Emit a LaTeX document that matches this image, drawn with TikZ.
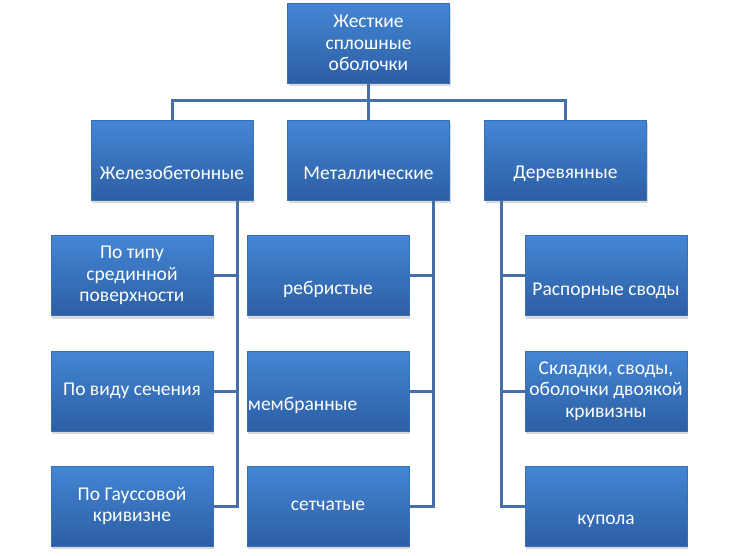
\documentclass[tikz,border=0pt]{standalone}
\usepackage{fontspec}
\setmainfont{Carlito}
\usetikzlibrary{shadows}
\definecolor{boxtop}{RGB}{68,134,212}
\definecolor{boxbot}{RGB}{44,94,164}
\definecolor{boxline}{RGB}{60,110,180}
\definecolor{linkcol}{RGB}{72,112,168}
\begin{document}
\begin{tikzpicture}[x=1pt, y=-1pt,
  box/.style={rectangle, draw=boxline, line width=0.6pt, top color=boxtop, bottom color=boxbot,
    minimum width=162pt, minimum height=80pt, inner sep=1pt, text=white, align=center,
    font=\fontsize{19.5}{21.5}\selectfont,
    drop shadow={opacity=0.3, shadow xshift=1pt, shadow yshift=-3pt}},
  txt/.style={inner sep=1pt, text=white, align=center, font=\fontsize{19.5}{21.5}\selectfont},
  link/.style={draw=linkcol, line width=3pt}]
\useasboundingbox (0,0) rectangle (737,555);
% top
\node[box](t) at (368.5,43){Жесткие\\сплошные\\оболочки};
% second level
\node[box](a) at (172,160){};
\node[box](b) at (368.5,160){};
\node[box](c) at (565.5,160){};
\node[txt](at) at ([yshift=-13pt]a.center){Железобетонные};
\node[txt](bt) at ([yshift=-13pt]b.center){Металлические};
\node[txt](ct) at ([yshift=-14pt]c.center){Деревянные};
% left column
\node[box](a1) at (132,275.5){По типу\\срединной\\поверхности};
\node[box](a2) at (132,391){По виду сечения};
\node[box](a3) at (132,506){По Гауссовой\\кривизне};
% middle column
\node[box](b1) at (328,275.5){};
\node[box](b2) at (328,391){};
\node[box](b3) at (328,506){сетчатые};
\node[txt](b1t) at ([yshift=-14pt]b1.center){ребристые};
\node[txt, anchor=west](b2t) at ([yshift=-14pt]b2.west){мембранные};
% right column
\node[box](c1) at (606,275.5){};
\node[box](c2) at (606,391){Складки, своды,\\оболочки двоякой\\кривизны};
\node[box](c3) at (606,506){};
\node[txt](c1t) at ([yshift=-15pt]c1.center){Распорные своды};
\node[txt](c3t) at ([yshift=-15pt]c3.center){купола};
% connectors
\coordinate (bus) at (368.5,100);
\coordinate (ad) at ([xshift=-16pt]a.south east);
\coordinate (bd) at ([xshift=-16pt]b.south east);
\coordinate (cd) at ([xshift=17pt]c.south west);
\path[link] (t.south) -- (b.north);
\path[link] (a.north) |- (bus) -| (c.north);
\path[link] (ad) |- (a3.east);
\path[link] (a1.east) -- (a1.east -| ad);
\path[link] (a2.east) -- (a2.east -| ad);
\path[link] (bd) |- (b3.east);
\path[link] (b1.east) -- (b1.east -| bd);
\path[link] (b2.east) -- (b2.east -| bd);
\path[link] (cd) |- (c3.west);
\path[link] (c1.west) -- (c1.west -| cd);
\path[link] (c2.west) -- (c2.west -| cd);
\end{tikzpicture}
\end{document}
